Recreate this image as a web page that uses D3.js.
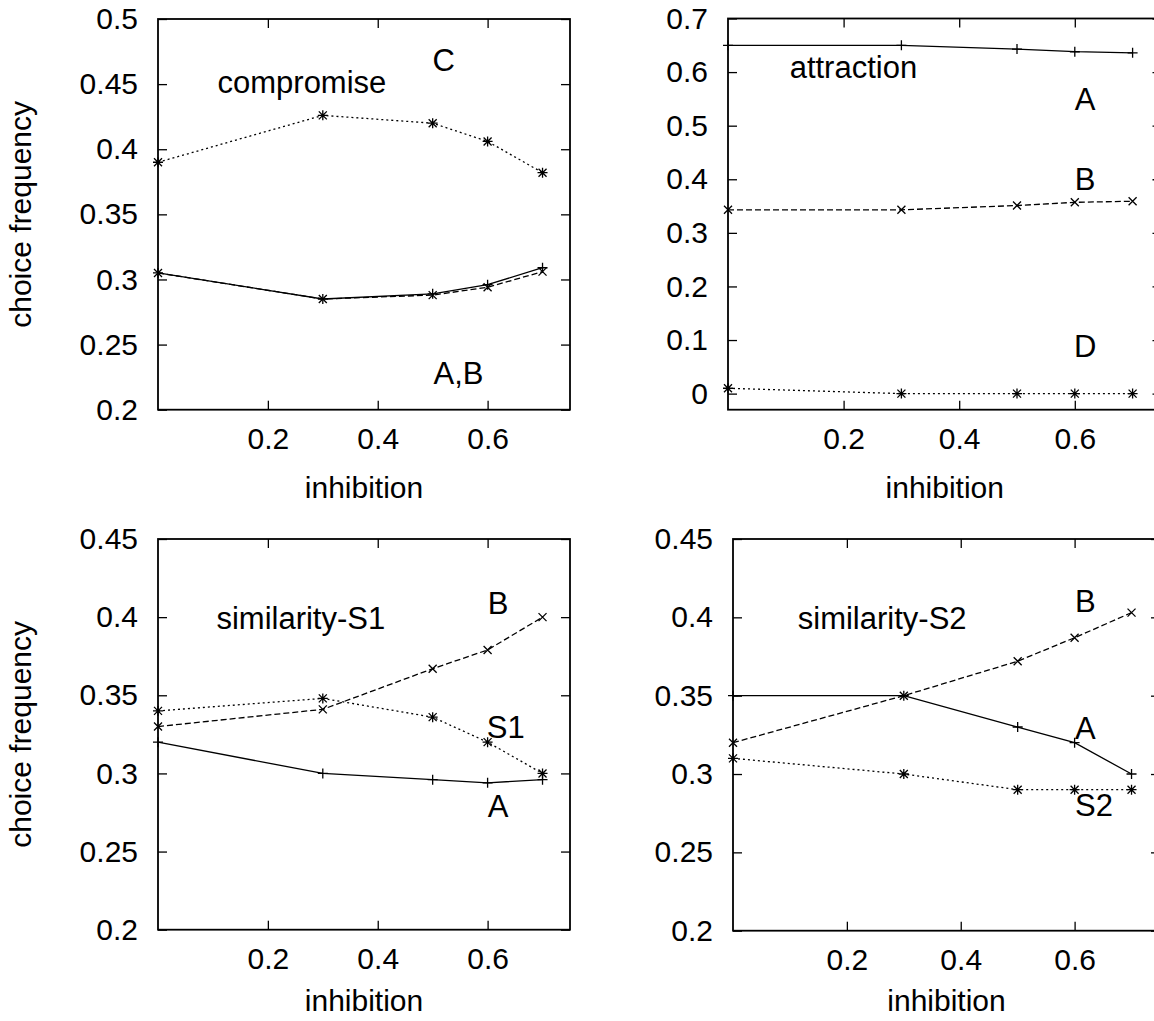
<!DOCTYPE html>
<html>
<head>
<meta charset="utf-8">
<script src="https://cdn.jsdelivr.net/npm/d3@7"></script>
<style>
  body { margin: 0; background: #fff; }
  svg text { font-family: "Liberation Sans", Arial, sans-serif; fill: #000; }
</style>
</head>
<body>
<div id="chart"></div>
<script>
// inhibition levels (x) shared by every panel
var inhibition = [0, 0.3, 0.5, 0.6, 0.7];

// compromise
var compA = [0.305, 0.285, 0.289, 0.296, 0.309];
var compB = [0.305, 0.285, 0.288, 0.294, 0.306];
var compC = [0.390, 0.426, 0.420, 0.406, 0.382];

// attraction
var attrA = [0.650, 0.650, 0.643, 0.638, 0.636];
var attrB = [0.343, 0.343, 0.351, 0.357, 0.359];
var attrD = [0.010, 0.000, 0.000, 0.000, 0.000];

// similarity-S1
var simS1A = [0.320, 0.300, 0.296, 0.294, 0.296];
var simS1B = [0.330, 0.341, 0.367, 0.379, 0.400];
var simS1S = [0.340, 0.348, 0.336, 0.320, 0.300];

// similarity-S2
var simS2A = [0.350, 0.350, 0.330, 0.320, 0.300];
var simS2B = [0.320, 0.350, 0.372, 0.387, 0.403];
var simS2S = [0.310, 0.300, 0.290, 0.290, 0.290];

var xTicks = [0.2, 0.4, 0.6];
var compTicks = [0.2, 0.25, 0.3, 0.35, 0.4, 0.45, 0.5];
var attrTicks = [0, 0.1, 0.2, 0.3, 0.4, 0.5, 0.6, 0.7];
var simTicks = [0.2, 0.25, 0.3, 0.35, 0.4, 0.45];

var W = 1154, H = 1021;

var svg = d3.select('#chart')
  .append('svg')
  .attr('width', W)
  .attr('height', H);

var markers = {
  plus: 'M-5,0H5M0,-5V5',
  cross: 'M-4,-4L4,4M-4,4L4,-4',
  star: 'M-5,0H5M0,-5V5M-4,-4L4,4M-4,4L4,-4'
};
var dashes = { solid: null, dashed: '6,3', dotted: '2,3' };

var panels = [
  {
    box: { left: 158, right: 570, top: 19, bottom: 409.7 },
    yDomain: [0.2, 0.5], yTicks: compTicks, ylabel: true, xlabelGap: 78,
    series: [
      { values: compA, dash: 'solid', marker: 'plus' },
      { values: compB, dash: 'dashed', marker: 'cross' },
      { values: compC, dash: 'dotted', marker: 'star' }
    ],
    labels: [
      { text: 'C', x: 0.52, y: 0.4685 },
      { text: 'compromise', x: 0.262, y: 0.451 },
      { text: 'A,B', x: 0.547, y: 0.228 }
    ]
  },
  {
    box: { left: 728, right: 1161.5, top: 18.5, bottom: 409.7 },
    yDomain: [-0.03, 0.7], yTicks: attrTicks, ylabel: false, xlabelGap: 78,
    series: [
      { values: attrA, dash: 'solid', marker: 'plus' },
      { values: attrB, dash: 'dashed', marker: 'cross' },
      { values: attrD, dash: 'dotted', marker: 'star' }
    ],
    labels: [
      { text: 'attraction', x: 0.217, y: 0.608 },
      { text: 'A', x: 0.618, y: 0.548 },
      { text: 'B', x: 0.618, y: 0.399 },
      { text: 'D', x: 0.618, y: 0.088 }
    ]
  },
  {
    box: { left: 158, right: 570, top: 539, bottom: 929.7 },
    yDomain: [0.2, 0.45], yTicks: simTicks, ylabel: true, xlabelGap: 71,
    series: [
      { values: simS1A, dash: 'solid', marker: 'plus' },
      { values: simS1B, dash: 'dashed', marker: 'cross' },
      { values: simS1S, dash: 'dotted', marker: 'star' }
    ],
    labels: [
      { text: 'similarity-S1', x: 0.26, y: 0.399 },
      { text: 'B', x: 0.619, y: 0.409 },
      { text: 'S1', x: 0.633, y: 0.3295 },
      { text: 'A', x: 0.619, y: 0.279 }
    ]
  },
  {
    box: { left: 733, right: 1160, top: 539, bottom: 930.7 },
    yDomain: [0.2, 0.45], yTicks: simTicks, ylabel: false, xlabelGap: 70,
    series: [
      { values: simS2A, dash: 'solid', marker: 'plus' },
      { values: simS2B, dash: 'dashed', marker: 'cross' },
      { values: simS2S, dash: 'dotted', marker: 'star' }
    ],
    labels: [
      { text: 'similarity-S2', x: 0.262, y: 0.3994 },
      { text: 'B', x: 0.619, y: 0.41 },
      { text: 'A', x: 0.619, y: 0.329 },
      { text: 'S2', x: 0.634, y: 0.28 }
    ]
  }
];

var fmt = function(d) { return String(+d.toFixed(2)); };

panels.forEach(function(p) {
  var b = p.box;
  var x = d3.scaleLinear().domain([0, 0.75]).range([b.left, b.right]);
  var y = d3.scaleLinear().domain(p.yDomain).range([b.bottom, b.top]);
  var g = svg.append('g');

  // ticks on all four sides, pointing inward (gnuplot style)
  g.append('g')
    .attr('transform', 'translate(0,' + b.bottom + ')')
    .call(d3.axisBottom(x).tickValues(xTicks).tickSize(-9).tickPadding(18).tickFormat(fmt))
    .call(function(a) { a.select('.domain').remove(); });
  g.append('g')
    .attr('transform', 'translate(0,' + b.top + ')')
    .call(d3.axisTop(x).tickValues(xTicks).tickSize(-9).tickFormat(''))
    .call(function(a) { a.select('.domain').remove(); });
  g.append('g')
    .attr('transform', 'translate(' + b.left + ',0)')
    .call(d3.axisLeft(y).tickValues(p.yTicks).tickSize(-9).tickPadding(20).tickFormat(fmt))
    .call(function(a) { a.select('.domain').remove(); });
  g.append('g')
    .attr('transform', 'translate(' + b.right + ',0)')
    .call(d3.axisRight(y).tickValues(p.yTicks).tickSize(-9).tickFormat(''))
    .call(function(a) { a.select('.domain').remove(); });

  g.selectAll('.tick line').attr('stroke', '#000').attr('stroke-width', 1.3);
  g.selectAll('.tick text')
    .attr('font-size', 30)
    .attr('font-family', '"Liberation Sans", Arial, sans-serif')
    .attr('fill', '#000');

  g.append('rect')
    .attr('x', b.left).attr('y', b.top)
    .attr('width', b.right - b.left).attr('height', b.bottom - b.top)
    .attr('fill', 'none').attr('stroke', '#000').attr('stroke-width', 1.8);

  // series lines and point markers
  var line = d3.line()
    .x(function(d, i) { return x(inhibition[i]); })
    .y(function(d) { return y(d); });

  p.series.forEach(function(s) {
    g.append('path')
      .datum(s.values)
      .attr('d', line)
      .attr('fill', 'none')
      .attr('stroke', '#000')
      .attr('stroke-width', 1.3)
      .attr('stroke-dasharray', dashes[s.dash]);
    g.selectAll(null)
      .data(s.values)
      .enter()
      .append('path')
      .attr('transform', function(d, i) { return 'translate(' + x(inhibition[i]) + ',' + y(d) + ')'; })
      .attr('d', markers[s.marker])
      .attr('fill', 'none')
      .attr('stroke', '#000')
      .attr('stroke-width', 1.3);
  });

  p.labels.forEach(function(l) {
    g.append('text')
      .attr('x', x(l.x))
      .attr('y', y(l.y))
      .attr('text-anchor', 'middle')
      .attr('dominant-baseline', 'central')
      .attr('font-size', 31)
      .text(l.text);
  });

  g.append('text')
    .attr('x', (b.left + b.right) / 2)
    .attr('y', b.bottom + p.xlabelGap)
    .attr('text-anchor', 'middle')
    .attr('dominant-baseline', 'central')
    .attr('font-size', 30)
    .text('inhibition');

  if (p.ylabel) {
    g.append('text')
      .attr('transform', 'translate(20,' + (b.top + b.bottom) / 2 + ') rotate(-90)')
      .attr('text-anchor', 'middle')
      .attr('dominant-baseline', 'central')
      .attr('font-size', 30)
      .text('choice frequency');
  }
});
</script>
</body>
</html>
